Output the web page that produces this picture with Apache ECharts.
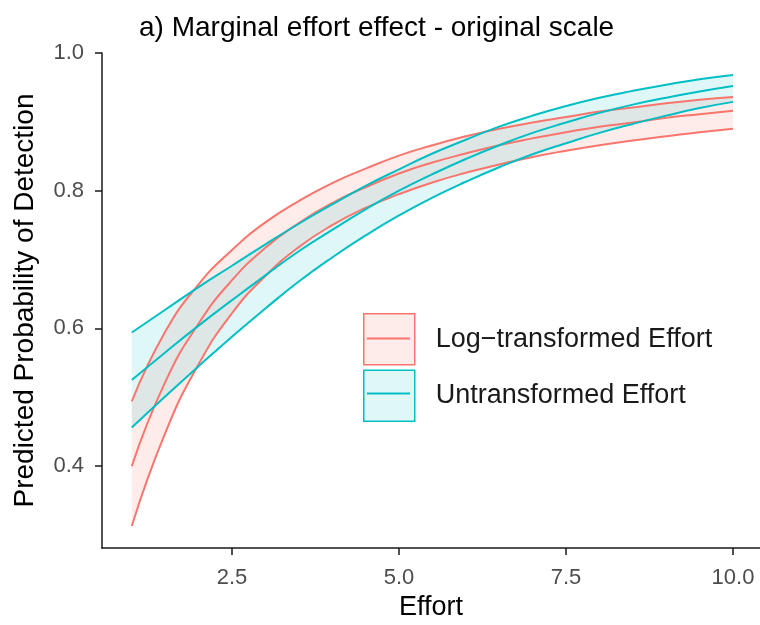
<!DOCTYPE html>
<html>
<head>
<meta charset="utf-8">
<script src="https://cdn.jsdelivr.net/npm/echarts@6/dist/echarts.min.js"></script>
<style>
  html, body { margin: 0; padding: 0; background: #fff; }
  #chart { width: 760px; height: 625px; }
</style>
</head>
<body>
<div id="chart"></div>
<script>
// effort values where the curves were read
var effort = [1, 1.5, 2, 2.5, 3, 3.5, 4, 4.5, 5, 5.5, 6, 6.5, 7, 7.5, 8, 8.5, 9, 9.5, 10];

// log-transformed effort model
var logFit   = [0.400, 0.522, 0.607, 0.670, 0.717, 0.753, 0.782, 0.805, 0.825, 0.841, 0.854, 0.866, 0.876, 0.885, 0.893, 0.899, 0.906, 0.911, 0.916];
var logLower = [0.313, 0.448, 0.548, 0.622, 0.676, 0.718, 0.750, 0.775, 0.795, 0.812, 0.826, 0.838, 0.849, 0.858, 0.866, 0.873, 0.879, 0.885, 0.890];
var logUpper = [0.494, 0.595, 0.664, 0.714, 0.754, 0.785, 0.811, 0.832, 0.851, 0.866, 0.879, 0.890, 0.899, 0.907, 0.915, 0.921, 0.927, 0.932, 0.936];

// untransformed effort model
var rawFit   = [0.525, 0.565, 0.604, 0.641, 0.677, 0.712, 0.743, 0.773, 0.800, 0.824, 0.846, 0.866, 0.884, 0.899, 0.913, 0.925, 0.935, 0.944, 0.952];
var rawLower = [0.456, 0.501, 0.545, 0.588, 0.629, 0.668, 0.703, 0.735, 0.764, 0.790, 0.813, 0.834, 0.853, 0.869, 0.884, 0.897, 0.909, 0.920, 0.929];
var rawUpper = [0.594, 0.627, 0.660, 0.691, 0.722, 0.752, 0.780, 0.807, 0.831, 0.854, 0.874, 0.893, 0.909, 0.923, 0.935, 0.945, 0.954, 0.962, 0.968];

var xTicks = [2.5, 5, 7.5, 10];
var yTicks = [0.4, 0.6, 0.8, 1.0];

var names = ['Log\u2212transformed Effort', 'Untransformed Effort'];
var RED = '#F8766D', TEAL = '#00BFC4';
var RED_FILL = 'rgba(248,118,109,0.14)', TEAL_FILL = 'rgba(0,191,196,0.12)';
var FONT = '"Liberation Sans", Arial, sans-serif';
var SMOOTH = 0.5;

function pts(ys) {
  return effort.map(function (x, i) { return [x, ys[i]]; });
}

// same bezier control points that echarts uses for smooth lines,
// so the ribbon edges sit under the line series
function bezierSegs(p, s) {
  var segs = [], cp0 = p[0].slice(), n = p.length;
  for (var i = 1; i < n; i++) {
    var x = p[i][0], y = p[i][1], prev = p[i - 1], next = p[i + 1];
    var cp1, nextCp0;
    if (!next) {
      cp1 = [x, y];
    } else {
      var vx = next[0] - prev[0], vy = next[1] - prev[1];
      var lp = Math.hypot(x - prev[0], y - prev[1]);
      var ln = Math.hypot(next[0] - x, next[1] - y);
      var r = ln / (ln + lp);
      var nx = x + vx * s * r, ny = y + vy * s * r;
      nx = Math.max(Math.min(nx, Math.max(next[0], x)), Math.min(next[0], x));
      ny = Math.max(Math.min(ny, Math.max(next[1], y)), Math.min(next[1], y));
      var cx = x - (nx - x) * lp / ln, cy = y - (ny - y) * lp / ln;
      cx = Math.max(Math.min(cx, Math.max(prev[0], x)), Math.min(prev[0], x));
      cy = Math.max(Math.min(cy, Math.max(prev[1], y)), Math.min(prev[1], y));
      nextCp0 = [x + (x - cx) * ln / lp, y + (y - cy) * ln / lp];
      cp1 = [cx, cy];
    }
    segs.push([p[i - 1], cp0, cp1, [x, y]]);
    cp0 = nextCp0;
  }
  return segs;
}

function bez(a, b, c, d, t) {
  var u = 1 - t;
  return [
    u * u * u * a[0] + 3 * u * u * t * b[0] + 3 * u * t * t * c[0] + t * t * t * d[0],
    u * u * u * a[1] + 3 * u * u * t * b[1] + 3 * u * t * t * c[1] + t * t * t * d[1]
  ];
}

function sampleSegs(segs, reverse) {
  var out = [];
  var list = reverse ? segs.slice().reverse() : segs;
  list.forEach(function (g) {
    for (var k = 0; k <= 16; k++) {
      var t = reverse ? 1 - k / 16 : k / 16;
      out.push(bez(g[0], g[1], g[2], g[3], t));
    }
  });
  return out;
}

function ribbon(name, fill, lo, hi) {
  return {
    type: 'custom', name: name, silent: true,
    itemStyle: { color: fill },
    data: [[effort[0], lo[0]]],
    renderItem: function (params, api) {
      if (params.dataIndex !== 0) return;
      var up = effort.map(function (x, i) { return api.coord([x, hi[i]]); });
      var dn = effort.map(function (x, i) { return api.coord([x, lo[i]]); });
      var poly = sampleSegs(bezierSegs(up, SMOOTH), false)
        .concat(sampleSegs(bezierSegs(dn, SMOOTH), true));
      return { type: 'polygon', shape: { points: poly }, style: { fill: fill, stroke: null } };
    }
  };
}

function curve(name, color, ys) {
  return {
    type: 'line', name: name, data: pts(ys), smooth: SMOOTH,
    showSymbol: false, silent: true, emphasis: { disabled: true },
    lineStyle: { color: color, width: 2 }
  };
}

var chart = echarts.init(document.getElementById('chart'));

var option = {
  animation: false,
  title: {
    text: 'a) Marginal effort effect - original scale',
    left: 134, top: 9,
    textStyle: { fontFamily: FONT, fontSize: 28, fontWeight: 'normal', color: '#000' }
  },
  grid: { left: 102, top: 53, right: 0, bottom: 77, outerBoundsMode: 'none' },
  legend: {
    orient: 'vertical', left: 363, top: 313, padding: 0,
    itemWidth: 51, itemHeight: 51, itemGap: 4, icon: 'rect',
    selectedMode: false,
    textStyle: { fontFamily: FONT, fontSize: 27, color: '#1a1a1a', padding: [0, 0, 0, 16] },
    data: [
      { name: names[0], itemStyle: { color: RED_FILL, borderColor: RED, borderWidth: 1.5 } },
      { name: names[1], itemStyle: { color: TEAL_FILL, borderColor: TEAL, borderWidth: 1.5 } }
    ]
  },
  graphic: [
    { type: 'line', z: 100, shape: { x1: 367, y1: 338.5, x2: 410, y2: 338.5 }, style: { stroke: RED, lineWidth: 2 } },
    { type: 'line', z: 100, shape: { x1: 367, y1: 393.5, x2: 410, y2: 393.5 }, style: { stroke: TEAL, lineWidth: 2 } }
  ],
  xAxis: {
    type: 'value', min: 0.554, max: 10.404,
    name: 'Effort', nameLocation: 'middle', nameGap: 43,
    nameTextStyle: { fontFamily: FONT, fontSize: 27, color: '#000' },
    axisLine: { show: true, onZero: false, lineStyle: { color: '#1a1a1a', width: 1.5 } },
    axisTick: { show: true, length: 7, customValues: xTicks, lineStyle: { color: '#1a1a1a', width: 1.5 } },
    axisLabel: {
      customValues: xTicks, margin: 19,
      fontFamily: FONT, fontSize: 22, color: '#4d4d4d',
      formatter: function (v) { return v.toFixed(1); }
    },
    splitLine: { show: false }
  },
  yAxis: {
    type: 'value', min: 0.281, max: 1.0,
    name: 'Predicted Probability of Detection', nameLocation: 'middle', nameGap: 63,
    nameTextStyle: { fontFamily: FONT, fontSize: 28, color: '#000' },
    axisLine: { show: true, onZero: false, lineStyle: { color: '#1a1a1a', width: 1.5 } },
    axisTick: { show: true, length: 7, customValues: yTicks, lineStyle: { color: '#1a1a1a', width: 1.5 } },
    axisLabel: {
      customValues: yTicks, margin: 18,
      fontFamily: FONT, fontSize: 22, color: '#4d4d4d',
      formatter: function (v) { return v.toFixed(1); }
    },
    splitLine: { show: false }
  },
  series: [
    ribbon(names[0], RED_FILL, logLower, logUpper),
    ribbon(names[1], TEAL_FILL, rawLower, rawUpper),
    curve('log lower', RED, logLower),
    curve('log upper', RED, logUpper),
    curve('log fit', RED, logFit),
    curve('raw lower', TEAL, rawLower),
    curve('raw upper', TEAL, rawUpper),
    curve('raw fit', TEAL, rawFit)
  ]
};

chart.setOption(option);
</script>
</body>
</html>
